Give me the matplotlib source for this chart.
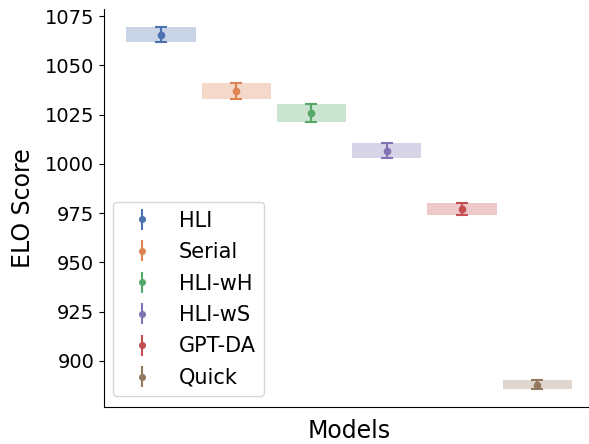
import matplotlib
matplotlib.use("Agg")
import matplotlib.pyplot as plt
import numpy as np

models = ["HLI", "Serial", "HLI-wH", "HLI-wS", "GPT-DA", "Quick"]
elo = [1065.5, 1037.0, 1025.9, 1006.6, 977.3, 888.0]
ci_low = [1061.8, 1033.0, 1021.3, 1003.0, 974.2, 885.6]
ci_high = [1069.3, 1041.0, 1030.4, 1010.8, 980.3, 890.2]
colors = ["#4C72B0", "#DD8452", "#55A868", "#8172B3", "#C44E52", "#937860"]

fig = plt.figure(figsize=(5.89, 4.44), dpi=100)
ax = fig.add_axes([0.1766, 0.084, 0.832, 0.8957])

x = np.arange(len(models))
for i, m in enumerate(models):
    ax.bar(x[i], ci_high[i] - ci_low[i], bottom=ci_low[i], width=0.92,
           color=colors[i], alpha=0.3, linewidth=0)
    err = [[elo[i] - ci_low[i]], [ci_high[i] - elo[i]]]
    ax.errorbar([x[i]], [elo[i]], yerr=err, fmt='o', color=colors[i],
                markersize=4.5, elinewidth=1.5, capsize=0, label=m)
    ax.errorbar([x[i]], [elo[i]], yerr=err, fmt='none', ecolor=colors[i],
                elinewidth=1.5, capsize=4, capthick=1.5)

ax.set_ylim(876.8, 1078.6)
ax.set_xticks([])
ax.set_yticks([900, 925, 950, 975, 1000, 1025, 1050, 1075])
ax.tick_params(axis='y', labelsize=14)
ax.set_xlabel("Models", fontsize=17, labelpad=9)
ax.set_ylabel("ELO Score", fontsize=17, labelpad=7)
ax.spines['top'].set_visible(False)
ax.spines['right'].set_visible(False)
ax.legend(loc='lower left', fontsize=15, bbox_to_anchor=(-0.003, 0.0),
          labelspacing=0.55, handletextpad=0.75, markerscale=0.9)

fig.savefig("out.png", dpi=100)
